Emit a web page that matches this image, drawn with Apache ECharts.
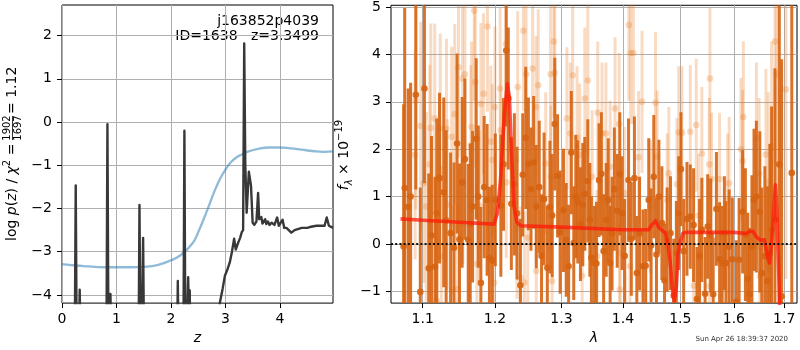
<!DOCTYPE html>
<html>
<head>
<meta charset="utf-8">
<script src="https://cdn.jsdelivr.net/npm/echarts@6/dist/echarts.min.js"></script>
<style>
  html, body { margin: 0; padding: 0; background: #fff; }
  #chart { width: 800px; height: 350px; }
</style>
</head>
<body>
<div id="chart"></div>
<script>
// ---- redshift probability, left panel ----
const zTicks = [0, 1, 2, 3, 4];
const logpTicks = [-4, -3, -2, -1, 0, 1, 2];

const zGrid = [0.00, 0.20, 0.228, 0.252, 0.274, 0.300, 0.312, 0.325, 0.338, 0.40,
  0.80, 0.811, 0.834, 0.856, 0.875, 0.889, 0.903, 1.00,
  1.38, 1.400, 1.422, 1.444, 1.460, 1.472, 1.489, 1.508, 1.60,
  2.05, 2.106, 2.126, 2.146, 2.226, 2.247, 2.266, 2.285, 2.300, 2.316, 2.332, 2.345, 2.362, 2.50,
  2.85, 2.898, 2.950, 2.990, 3.040, 3.080, 3.120, 3.160, 3.190, 3.235, 3.270, 3.300, 3.325,
  3.345, 3.365, 3.390, 3.430, 3.470, 3.500, 3.530, 3.570, 3.600, 3.620, 3.660, 3.680, 3.710,
  3.730, 3.750, 3.780, 3.810, 3.850, 3.900, 3.950, 3.980, 4.000, 4.050, 4.080, 4.120, 4.210,
  4.270, 4.300, 4.400, 4.500, 4.550, 4.670, 4.750, 4.820, 4.860, 4.900, 4.975];
const logPz = [-12, -9, -6.5, -1.47, -6.0, -5.5, -5.0, -3.88, -5.0, -9,
  -8, -6.5, -0.05, -6.0, -5.0, -3.98, -5.0, -9,
  -8, -6.5, -1.92, -5.5, -5.0, -4.4, -2.68, -5.5, -9,
  -8, -6.0, -3.68, -6.0, -6.0, -0.20, -5.5, -4.8, -4.4, -3.59, -4.6, -3.9, -6.0, -9,
  -5.0, -4.18, -3.85, -3.56, -3.40, -3.25, -3.00, -2.70, -2.95, -2.79, -2.68, -2.55, -2.50,
  1.82, -1.00, -2.10, -1.15, -1.48, -2.33, -2.38, -2.30, -1.64, -2.25, -2.20, -2.35, -2.33,
  -2.25, -2.36, -2.30, -2.38, -2.33, -2.38, -2.21, -2.40, -2.43, -2.26, -2.45, -2.45, -2.56,
  -2.50, -2.47, -2.45, -2.45, -2.43, -2.40, -2.40, -2.40, -2.21, -2.40, -2.45];

const zPrior = [0, 0.25, 0.5, 0.75, 1.0, 1.25, 1.5, 1.75, 2.0, 2.2, 2.4, 2.5, 2.6, 2.7, 2.8,
  2.9, 3.0, 3.1, 3.2, 3.3, 3.4, 3.6, 3.8, 4.0, 4.2, 4.4, 4.6, 4.8, 4.975];
const logPrior = [-3.29, -3.32, -3.34, -3.36, -3.36, -3.36, -3.35, -3.31, -3.20, -3.06, -2.80,
  -2.55, -2.25, -1.93, -1.60, -1.32, -1.10, -0.93, -0.82, -0.75, -0.69, -0.62, -0.59, -0.59,
  -0.61, -0.64, -0.67, -0.69, -0.68];

// ---- 1D spectrum, right panel ----
const waveTicks = [1.1, 1.2, 1.3, 1.4, 1.5, 1.6, 1.7];
const fluxTicks = [-1, 0, 1, 2, 3, 4, 5];

const darkWave = [1.075, 1.0764, 1.0809, 1.0841, 1.0909, 1.0968, 1.1023, 1.108, 1.1117, 1.1164,
  1.1188, 1.1225, 1.1282, 1.1315, 1.1376, 1.1423, 1.1465, 1.1498, 1.1535, 1.1573,
  1.162, 1.1648, 1.1681, 1.1732, 1.1761, 1.1798, 1.1845, 1.1887, 1.192, 1.1962,
  1.2005, 1.2085, 1.2124, 1.2164, 1.2194, 1.2239, 1.2284, 1.2323, 1.2373, 1.2408,
  1.2453, 1.2493, 1.2532, 1.2572, 1.2612, 1.2657, 1.2692, 1.2731, 1.2781, 1.2821,
  1.2856, 1.2896, 1.294, 1.298, 1.3032, 1.3075, 1.3113, 1.3156, 1.3194, 1.3226,
  1.3258, 1.3301, 1.3339, 1.3371, 1.3419, 1.3452, 1.3478, 1.3527, 1.3559, 1.3602,
  1.364, 1.3677, 1.372, 1.3753, 1.3785, 1.3817, 1.3855, 1.3903, 1.3946, 1.3984,
  1.4029, 1.4094, 1.4141, 1.4194, 1.4235, 1.4282, 1.4341, 1.4388, 1.4441, 1.4482,
  1.4529, 1.4576, 1.4618, 1.4671, 1.4718, 1.4765, 1.4824, 1.4882, 1.4929, 1.4971,
  1.5012, 1.5061, 1.5121, 1.5182, 1.5242, 1.5303, 1.5352, 1.5394, 1.5455, 1.5503,
  1.5558, 1.5606, 1.5667, 1.5727, 1.5776, 1.5818, 1.5848, 1.5909, 1.597, 1.6047,
  1.6101, 1.6169, 1.6223, 1.627, 1.6304, 1.6351, 1.6392, 1.6439, 1.6507, 1.6547,
  1.6608, 1.6662, 1.6709, 1.6743, 1.6811, 1.6899, 1.6946, 1.7155];
const darkFlux = [-0.05, 1.18, 0.78, 1.00, 3.15, -1.01, 3.28, -0.51, 0.18, -0.48,
  0.65, 1.39, 1.09, 0.50, 0.23, -0.08, 2.12, 0.10, 1.30, 1.79,
  0.09, 0.42, 0.79, 2.22, 1.00, -0.82, 1.20, 0.93, -0.29, -0.35,
  0.93, 0.81, 1.68, 4.08, 3.07, 0.85, 1.26, 0.65, -0.87, 1.46,
  2.24, 1.69, 1.16, 1.72, 0.79, 1.20, -0.25, 0.95, -0.50, 0.78,
  0.60, 2.53, 1.44, 0.25, 0.71, 0.09, -0.47, 1.93, 0.02, 1.00,
  0.89, 0.42, 0.83, 1.06, 1.33, 0.51, -0.29, -0.40, -0.41, 1.35,
  1.48, -0.15, 0.51, 0.93, -0.40, 0.22, 1.16, 0.70, 1.48, 0.65,
  -0.25, 1.35, 0.11, 1.39, -0.61, 0.22, -0.47, -0.46, 0.93, -0.03,
  1.42, -0.22, 1.00, 0.44, -0.77, 0.09, 0.23, -1.09, -0.19, 0.65,
  1.58, -0.15, 0.53, 0.58, 0.40, -1.16, -0.25, 0.30, -1.05, 0.37,
  0.18, -1.06, 0.74, -0.32, -0.40, 0.23, -0.40, -0.05, -0.32, -1.22,
  -0.33, 0.68, 0.20, -0.74, -1.06, -0.05, 0.93, 1.00, 0.68, -0.61,
  -0.26, -0.78, -0.19, 0.30, 0.51, 1.68, -1.10, 1.50];
const darkErr = [3.0, 3.8, 2.5, 2.4, 2.0, 2.2, 2.0, 2.0, 2.1, 1.9,
  2.0, 1.8, 2.0, 1.9, 1.7, 1.8, 1.9, 1.6, 1.8, 1.7,
  1.6, 1.7, 1.6, 1.7, 1.5, 1.6, 1.5, 1.6, 1.5, 1.6,
  1.4, 1.5, 1.4, 1.6, 1.5, 1.4, 1.5, 1.4, 1.4, 1.3,
  1.5, 1.4, 1.3, 1.4, 1.3, 1.4, 1.3, 1.4, 1.3, 1.4,
  1.3, 1.4, 1.3, 1.3, 1.3, 1.2, 1.3, 1.3, 1.2, 1.3,
  1.3, 1.2, 1.3, 1.2, 1.3, 1.2, 1.3, 1.2, 1.3, 1.2,
  1.3, 1.2, 1.2, 1.3, 1.2, 1.2, 1.3, 1.2, 1.3, 1.2,
  1.2, 1.3, 1.2, 1.3, 1.2, 1.2, 1.2, 1.2, 1.3, 1.2,
  1.3, 1.2, 1.2, 1.2, 1.2, 1.1, 1.2, 1.2, 1.1, 1.2,
  1.2, 1.1, 1.2, 1.1, 1.2, 1.1, 1.2, 1.1, 1.2, 1.1,
  1.2, 1.2, 1.2, 1.2, 1.2, 1.2, 1.3, 1.2, 1.3, 1.3,
  1.3, 1.3, 1.4, 1.4, 1.4, 1.5, 1.5, 1.6, 1.7, 1.8,
  1.9, 2.0, 2.3, 2.6, 3.2, 4.5, 5.0, 6.0];

const lightWave = [1.09, 1.0909, 1.0973, 1.1014, 1.1047, 1.1094, 1.1108, 1.116, 1.1188, 1.1235,
  1.1249, 1.1319, 1.1329, 1.139, 1.1399, 1.1432, 1.1469, 1.1484, 1.154, 1.1545,
  1.1573, 1.1657, 1.1667, 1.1704, 1.1718, 1.1742, 1.1775, 1.1798, 1.1836, 1.1892,
  1.1939, 1.1962, 1.1986, 1.2, 1.2075, 1.2085, 1.2159, 1.2165, 1.2323, 1.2333,
  1.2373, 1.2418, 1.2433, 1.2458, 1.2483, 1.2557, 1.2607, 1.2612, 1.2642, 1.2756,
  1.2831, 1.2836, 1.2856, 1.2881, 1.2896, 1.3086, 1.314, 1.3177, 1.3247, 1.329,
  1.3328, 1.3371, 1.3419, 1.3489, 1.357, 1.3581, 1.3651, 1.3715, 1.3785, 1.3866,
  1.3935, 1.3946, 1.395, 1.4029, 1.41, 1.4118, 1.4129, 1.4176, 1.4265, 1.4324,
  1.4471, 1.4559, 1.4588, 1.4765, 1.4794, 1.4941, 1.4971, 1.503, 1.5182, 1.5242,
  1.5291, 1.5333, 1.5394, 1.5533, 1.5538, 1.5545, 1.5576, 1.5727, 1.5879, 1.5909,
  1.6135, 1.6169, 1.6182, 1.6439, 1.6493, 1.6507, 1.6628, 1.6676, 1.6743, 1.6811,
  1.6845, 1.7035];
const lightFlux = [1.88, 3.03, 2.49, 1.28, 0.79, 1.68, 2.45, 2.65, -1.20, 2.44,
  -0.26, 2.43, 0.83, 2.26, -0.98, 2.74, -0.95, 3.73, 3.49, 1.28,
  3.58, 2.07, 2.47, 4.92, 3.42, -0.42, 0.81, 2.96, 3.17, 4.59,
  2.16, 1.77, -0.82, 2.89, 3.28, 2.40, 4.22, 1.30, 0.34, 3.31,
  -0.71, 4.50, -0.81, 3.58, 0.13, 3.70, 2.89, -0.57, 3.35, 1.70,
  3.58, 1.42, -0.78, 4.27, 3.61, 2.65, 2.33, 3.56, 2.25, 1.88,
  -0.67, 3.07, 3.45, 1.42, -0.26, 2.77, 2.33, 2.33, 1.63, 2.86,
  2.53, -0.96, -0.19, 1.07, 4.62, -0.47, 4.03, 4.03, 1.83, 3.00,
  0.79, 2.98, 1.84, 0.93, 1.49, 1.26, 2.35, 2.35, 2.37, -0.88,
  2.51, 0.60, 1.91, 1.68, -0.89, 3.49, 1.37, 1.37, 0.93, 1.28,
  2.00, 1.75, 2.68, 2.23, 1.48, -0.68, 1.89, 1.30, 2.07, 4.27,
  3.58, 3.26];
const lightErr = [2.2, 2.3, 2.2, 2.1, 2.0, 2.1, 2.2, 2.0, 2.0, 2.0,
  1.9, 1.9, 1.8, 1.9, 1.8, 1.9, 1.8, 1.9, 1.8, 1.7,
  1.8, 1.7, 1.8, 1.9, 1.8, 1.7, 1.6, 1.7, 1.7, 1.8,
  1.6, 1.6, 1.6, 1.7, 1.7, 1.6, 1.7, 1.6, 1.5, 1.6,
  1.5, 1.7, 1.5, 1.6, 1.5, 1.6, 1.5, 1.5, 1.6, 1.5,
  1.6, 1.5, 1.5, 1.6, 1.6, 1.5, 1.5, 1.6, 1.5, 1.5,
  1.4, 1.5, 1.6, 1.4, 1.4, 1.5, 1.5, 1.5, 1.4, 1.5,
  1.5, 1.4, 1.4, 1.4, 1.6, 1.4, 1.5, 1.5, 1.4, 1.5,
  1.4, 1.5, 1.4, 1.4, 1.4, 1.4, 1.4, 1.4, 1.4, 1.4,
  1.4, 1.3, 1.4, 1.4, 1.3, 1.5, 1.4, 1.4, 1.4, 1.4,
  1.5, 1.5, 1.6, 1.6, 1.6, 1.6, 1.8, 1.9, 2.2, 2.6,
  3.0, 4.0];

const modelWave = [1.071, 1.10, 1.15, 1.1986, 1.2035, 1.208, 1.2134, 1.218, 1.221, 1.224,
  1.228, 1.232, 1.238, 1.30, 1.40, 1.444, 1.450, 1.456, 1.4618, 1.4676,
  1.4735, 1.4776, 1.482, 1.4865, 1.489, 1.493, 1.496, 1.500, 1.505, 1.512,
  1.60, 1.617, 1.624, 1.631, 1.637, 1.644, 1.652, 1.660, 1.666, 1.670,
  1.675, 1.679, 1.682, 1.685, 1.689, 1.692, 1.695];
const modelFlux = [0.53, 0.50, 0.46, 0.42, 0.65, 1.35, 2.68, 3.38, 3.10, 1.98,
  0.79, 0.46, 0.385, 0.357, 0.30, 0.30, 0.41, 0.49, 0.35, 0.29,
  0.23, 0.02, -0.40, -1.03, -1.20, -0.89, -0.19, 0.04, 0.23, 0.25,
  0.245, 0.23, 0.22, 0.27, 0.27, 0.15, 0.08, 0.09, -0.26, -0.40,
  0.09, 0.79, 1.25, 0.65, -0.68, -1.87, -3.0];

// ---- drawing ----
const FONT = 'DejaVu Sans';
const zip2 = (a, b) => a.map((v, i) => [v, b[i]]);
const zip3 = (a, b, c) => a.map((v, i) => [v, b[i], c[i]]);
const minusSign = v => String(v).replace('-', '\u2212');

// vertical error bar plus a dot, clipped to the plot rectangle
function errorBars(color, radius, width) {
  return function (params, api) {
    const x = api.value(0), y = api.value(1), e = api.value(2);
    const cs = params.coordSys;
    const c = api.coord([x, y]);
    const top = api.coord([x, y + e]);
    const bot = api.coord([x, y - e]);
    const clampY = v => Math.max(cs.y, Math.min(cs.y + cs.height, v));
    const children = [{
      type: 'line',
      shape: { x1: c[0], y1: clampY(top[1]), x2: c[0], y2: clampY(bot[1]) },
      style: { stroke: color, lineWidth: width }
    }];
    if (c[1] >= cs.y && c[1] <= cs.y + cs.height) {
      children.push({ type: 'circle', shape: { cx: c[0], cy: c[1], r: radius }, style: { fill: color } });
    }
    return { type: 'group', children };
  };
}

const axisFont = { fontFamily: FONT, fontSize: 14, color: '#000' };
const tickStyle = { show: true, inside: false, length: 5, lineStyle: { color: '#000', width: 1 } };
const gridLine = { show: true, lineStyle: { color: '#b0b0b0', width: 1 } };

const chart = echarts.init(document.getElementById('chart'), null, { renderer: 'canvas' });

chart.setOption({
  animation: false,
  textStyle: { fontFamily: FONT },
  grid: [
    { left: 62, top: 5, width: 271, height: 299, show: true, borderColor: '#000', borderWidth: 1, containLabel: false },
    { left: 391, top: 5, width: 406, height: 299, show: true, borderColor: '#000', borderWidth: 1, containLabel: false }
  ],
  xAxis: [
    {
      type: 'value', gridIndex: 0, min: 0, max: 4.975,
      axisLine: { show: false, onZero: false },
      axisTick: Object.assign({ customValues: zTicks }, tickStyle),
      axisLabel: Object.assign({ customValues: zTicks, margin: 9, formatter: minusSign }, axisFont),
      splitLine: gridLine,
      name: 'z', nameLocation: 'middle', nameGap: 27,
      nameTextStyle: { fontFamily: FONT, fontSize: 14, fontStyle: 'italic', color: '#000' }
    },
    {
      type: 'log', logBase: 10, gridIndex: 1, min: 1.0588, max: 1.7263,
      axisLine: { show: false, onZero: false },
      axisTick: Object.assign({ customValues: waveTicks }, tickStyle),
      axisLabel: Object.assign({ customValues: waveTicks, margin: 9, formatter: v => Number(v).toFixed(1) }, axisFont),
      minorTick: { show: false },
      splitLine: gridLine,
      name: 'λ', nameLocation: 'middle', nameGap: 27,
      nameTextStyle: { fontFamily: FONT, fontSize: 14, fontStyle: 'italic', color: '#000' }
    }
  ],
  yAxis: [
    {
      type: 'value', gridIndex: 0, min: -4.19, max: 2.708,
      axisLine: { show: false, onZero: false },
      axisTick: Object.assign({ customValues: logpTicks }, tickStyle),
      axisLabel: Object.assign({ customValues: logpTicks, margin: 10, formatter: minusSign }, axisFont),
      splitLine: gridLine
    },
    {
      type: 'value', gridIndex: 1, min: -1.246, max: 5.036,
      axisLine: { show: false, onZero: false },
      axisTick: Object.assign({ customValues: fluxTicks }, tickStyle),
      axisLabel: Object.assign({ customValues: fluxTicks, margin: 10, formatter: minusSign }, axisFont),
      splitLine: gridLine
    }
  ],
  series: [
    {
      name: 'prior', type: 'line', xAxisIndex: 0, yAxisIndex: 0,
      data: zip2(zPrior, logPrior), smooth: true, showSymbol: false, clip: true,
      lineStyle: { color: '#1f77b4', opacity: 0.5, width: 2.3 }
    },
    {
      name: 'log p(z)', type: 'line', xAxisIndex: 0, yAxisIndex: 0,
      data: zip2(zGrid, logPz), showSymbol: false, clip: true,
      lineStyle: { color: '#383838', width: 2.4, join: 'round' }
    },
    {
      name: 'spectrum (faint)', type: 'custom', xAxisIndex: 1, yAxisIndex: 1, clip: true,
      data: zip3(lightWave, lightFlux, lightErr),
      encode: { x: 0, y: 1 },
      renderItem: errorBars('rgba(232, 125, 40, 0.28)', 3.3, 3)
    },
    {
      name: 'spectrum', type: 'custom', xAxisIndex: 1, yAxisIndex: 1, clip: true,
      data: zip3(darkWave, darkFlux, darkErr),
      encode: { x: 0, y: 1 },
      renderItem: errorBars('rgba(214, 100, 18, 0.9)', 3.3, 3)
    },
    {
      name: 'model', type: 'line', xAxisIndex: 1, yAxisIndex: 1,
      data: zip2(modelWave, modelFlux), showSymbol: false, clip: true,
      lineStyle: { color: '#ff1a0a', opacity: 0.75, width: 3.6, join: 'round' },
      markLine: {
        silent: true, symbol: ['none', 'none'], label: { show: false },
        lineStyle: { color: '#111', type: [2, 2.2], width: 2 },
        data: [{ yAxis: 0 }]
      }
    }
  ],
  graphic: [
    {
      type: 'text', x: 319, y: 21,
      style: { text: 'j163852p4039', align: 'right', verticalAlign: 'middle', fontFamily: FONT, fontSize: 14, fill: '#000' }
    },
    {
      type: 'text', x: 319, y: 36.5,
      style: { text: 'ID=1638   z=3.3499', align: 'right', verticalAlign: 'middle', fontFamily: FONT, fontSize: 14, fill: '#000' }
    },
    {
      type: 'text', x: 12.5, y: 241, rotation: Math.PI / 2,
      style: {
        text: '{a|log }{i|p}{a|(}{i|z}{a|) / }{i|χ}{s|2}{a| =}',
        align: 'left', verticalAlign: 'middle',
        rich: {
          a: { fontFamily: FONT, fontSize: 14, fill: '#000', lineHeight: 20 },
          i: { fontFamily: FONT, fontSize: 14, fontStyle: 'italic', fill: '#000', lineHeight: 20 },
          s: { fontFamily: FONT, fontSize: 10, fill: '#000', lineHeight: 11, verticalAlign: 'top' }
        }
      }
    },
    {
      type: 'text', x: 7.5, y: 128, rotation: Math.PI / 2,
      style: { text: '1902', align: 'center', verticalAlign: 'middle', fontFamily: FONT, fontSize: 10, fill: '#000' }
    },
    {
      type: 'text', x: 18, y: 128, rotation: Math.PI / 2,
      style: { text: '1697', align: 'center', verticalAlign: 'middle', fontFamily: FONT, fontSize: 10, fill: '#000' }
    },
    {
      type: 'line', shape: { x1: 12.5, y1: 116, x2: 12.5, y2: 140 },
      style: { stroke: '#000', lineWidth: 0.8 }
    },
    {
      type: 'text', x: 12.5, y: 114, rotation: Math.PI / 2,
      style: { text: '= 1.12', align: 'left', verticalAlign: 'middle', fontFamily: FONT, fontSize: 14, fill: '#000' }
    },
    {
      type: 'text', x: 344, y: 155, rotation: Math.PI / 2,
      style: {
        text: '{i|f}{b|λ}{a| × 10}{s|−19}',
        align: 'center', verticalAlign: 'middle',
        rich: {
          a: { fontFamily: FONT, fontSize: 14, fill: '#000', lineHeight: 20 },
          i: { fontFamily: FONT, fontSize: 14, fontStyle: 'italic', fill: '#000', lineHeight: 20 },
          b: { fontFamily: FONT, fontSize: 10, fontStyle: 'italic', fill: '#000', lineHeight: 11, verticalAlign: 'bottom' },
          s: { fontFamily: FONT, fontSize: 10, fill: '#000', lineHeight: 11, verticalAlign: 'top' }
        }
      }
    },
    {
      type: 'text', x: 788, y: 339,
      style: { text: 'Sun Apr 26 18:39:37 2020', align: 'right', verticalAlign: 'middle', fontFamily: FONT, fontSize: 7, fill: '#333' }
    }
  ]
});
</script>
</body>
</html>
